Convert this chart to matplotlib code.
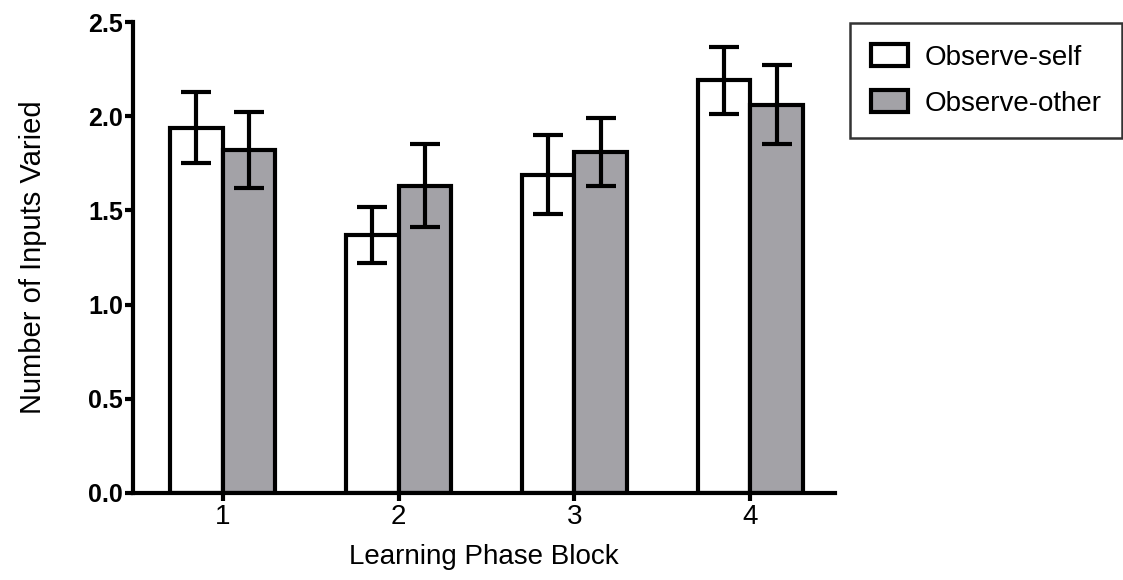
import matplotlib.pyplot as plt
import numpy as np

plt.rcParams['font.family'] = ['Liberation Sans', 'DejaVu Sans']

blocks = ['1', '2', '3', '4']
self_mean = [1.94, 1.37, 1.69, 2.19]
self_err = [0.19, 0.15, 0.21, 0.18]
other_mean = [1.82, 1.63, 1.81, 2.06]
other_err = [0.20, 0.22, 0.18, 0.21]

x = np.arange(1, len(blocks) + 1)
w = 0.3

fig = plt.figure(figsize=(11.23, 5.8), dpi=100)
ax = fig.add_axes([0.1184, 0.150, 0.625, 0.812])

err_kw = dict(ecolor='black', elinewidth=3, capsize=10.5, capthick=3)
b1 = ax.bar(x - w / 2, self_mean, w, yerr=self_err, color='white',
            edgecolor='black', linewidth=3, error_kw=err_kw,
            label='Observe-self', zorder=2)
b2 = ax.bar(x + w / 2, other_mean, w, yerr=other_err, color='#a3a2a7',
            edgecolor='black', linewidth=3, error_kw=err_kw,
            label='Observe-other', zorder=2)

ax.set_xlim(0.49, 4.48)
ax.set_ylim(0, 2.5)
ax.set_yticks([0, 0.5, 1.0, 1.5, 2.0, 2.5])
ax.set_yticklabels(['0.0', '0.5', '1.0', '1.5', '2.0', '2.5'],
                   fontsize=18, fontweight='bold')
ax.set_xticks(x)
ax.set_xticklabels(blocks, fontsize=20)
ax.tick_params(axis='both', direction='out', length=6, width=3)
ax.tick_params(axis='y', pad=1)
ax.tick_params(axis='x', pad=2)

for s in ['top', 'right']:
    ax.spines[s].set_visible(False)
for s in ['left', 'bottom']:
    ax.spines[s].set_linewidth(3)

ax.set_xlabel('Learning Phase Block', fontsize=20, labelpad=10)
ax.set_ylabel('Number of Inputs Varied', fontsize=21, labelpad=30)

leg = fig.legend(handles=[b1, b2], loc='upper left',
                 bbox_to_anchor=(0.757, 0.960), fontsize=20,
                 frameon=True, fancybox=False, edgecolor='black',
                 handlelength=1.33, handleheight=0.85, handletextpad=0.6,
                 labelspacing=0.7, borderpad=0.75, borderaxespad=0)
leg.get_frame().set_linewidth(1.8)

fig.savefig('out.png', dpi=100)
